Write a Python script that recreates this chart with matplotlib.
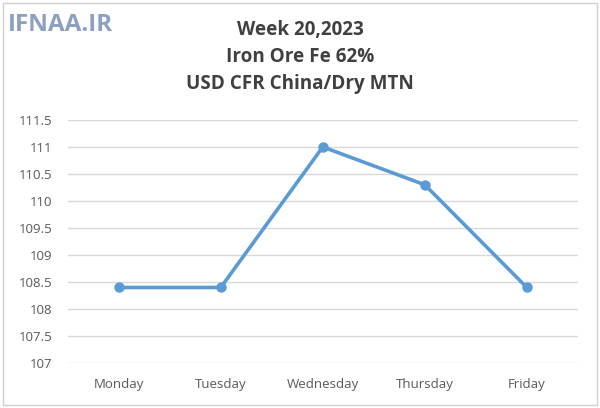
import matplotlib.pyplot as plt
from matplotlib.patches import Rectangle

days = ['Monday', 'Tuesday', 'Wednesday', 'Thursday', 'Friday']
prices = [108.4, 108.4, 111.0, 110.3, 108.4]
yticks = [107, 107.5, 108, 108.5, 109, 109.5, 110, 110.5, 111, 111.5]
ytick_labels = ['107', '107.5', '108', '108.5', '109', '109.5', '110', '110.5', '111', '111.5']

plt.rcParams['font.family'] = ['Open Sans', 'DejaVu Sans']

fig = plt.figure(figsize=(6, 4.08), dpi=100)
ax = fig.add_axes([0.113, 0.110, 0.850, 0.596])

x = list(range(len(days)))
ax.plot(x, prices, color='#5b9bd5', linewidth=2.6, marker='o', markersize=6.5, zorder=3)

ax.set_xlim(-0.5, len(days) - 0.5)
ax.set_ylim(107, 111.5)
ax.set_yticks(yticks)
ax.set_yticklabels(ytick_labels)
ax.set_xticks(x)
ax.set_xticklabels(days)
ax.tick_params(axis='both', length=0, labelsize=9.5, labelcolor='#595959')
ax.tick_params(axis='x', pad=11)
ax.tick_params(axis='y', pad=11)
ax.grid(axis='y', color='#d9d9d9', linewidth=1)
ax.set_axisbelow(True)
[ax.spines[s].set_visible(False) for s in ax.spines]

title = 'Week 20,2023\nIron Ore Fe 62%\nUSD CFR China/Dry MTN'
fig.text(0.5, 0.95, title, ha='center', va='top', fontsize=13.6,
         fontweight='bold', color='#404040', linespacing=1.45)

fig.text(0.013, 0.968, 'IFNAA.IR', ha='left', va='top', fontsize=17.5,
         fontweight='bold', color='#8096b8', alpha=0.9)

# light frame around the chart
fig.patches.append(Rectangle((0.005, 0.008), 0.99, 0.985, transform=fig.transFigure,
                             fill=False, edgecolor='#d0d0d0', linewidth=1))

fig.savefig('out.png', dpi=100)
